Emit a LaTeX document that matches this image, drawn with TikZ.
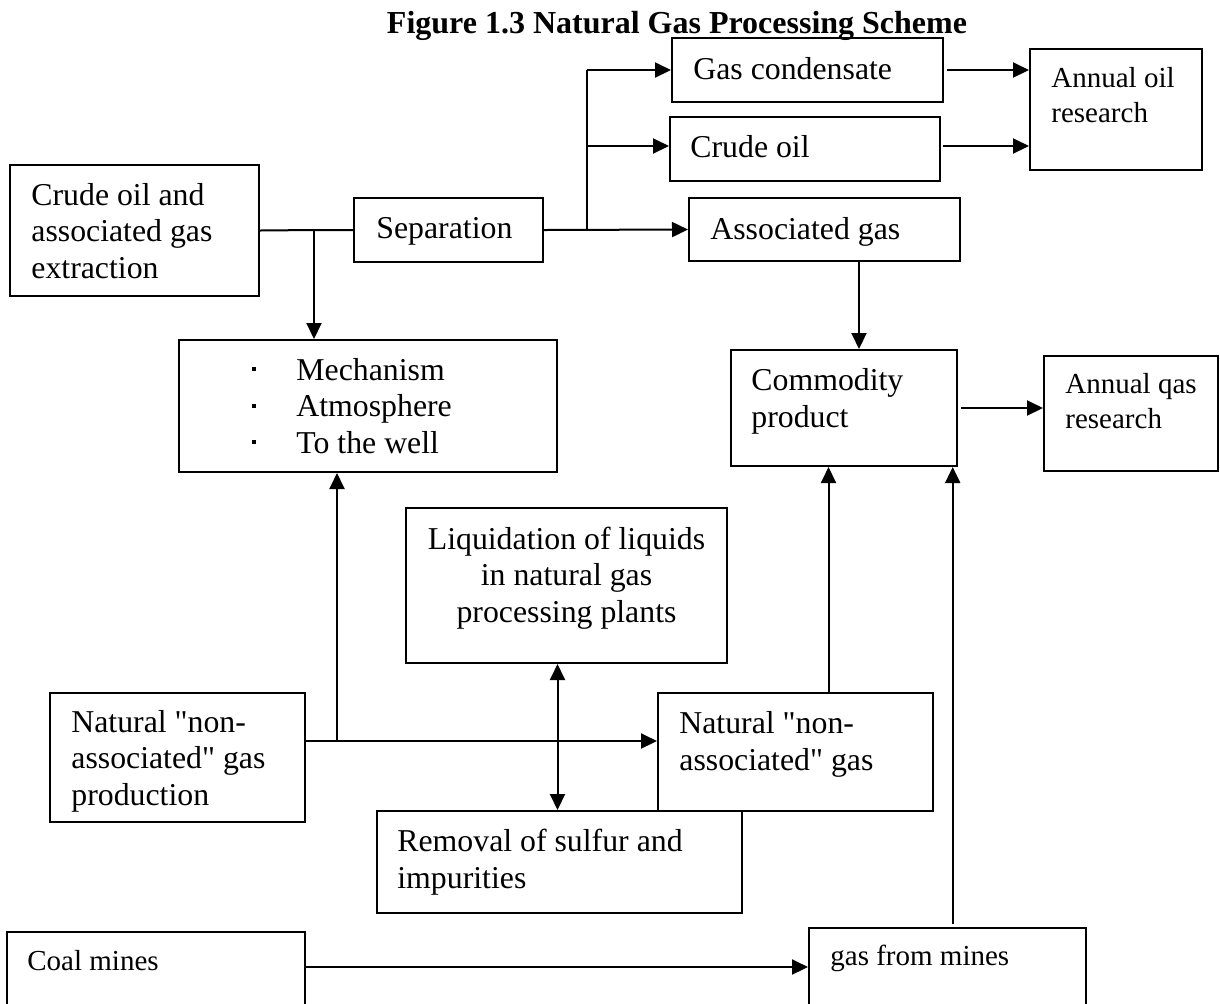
\documentclass[tikz,border=0pt]{standalone}
\usepackage{fontspec}
\setmainfont{Liberation Serif}[Ligatures=TeXOff]
\usetikzlibrary{arrows.meta,fit}
\newcommand{\sqbullet}{\makebox[22pt][l]{\rule[4.5pt]{2pt}{2pt}}}
\begin{document}
\begin{tikzpicture}[x=0.5pt,y=-0.5pt,
  box/.style={draw, line width=1pt, rectangle, inner sep=0pt},
  txt/.style={anchor=base west, inner sep=0pt, align=left, font=\fontsize{15.9}{18.25}\selectfont},
  stxt/.style={anchor=base west, inner sep=0pt, align=left, font=\fontsize{14.5}{17.5}\selectfont},
  conn/.style={line width=1pt},
  arr/.style={line width=1pt, -{Triangle[length=8pt,width=7.5pt]}},
  darr/.style={line width=1pt, {Triangle[length=8pt,width=7.5pt]}-{Triangle[length=8pt,width=7.5pt]}}]
\useasboundingbox (0,0) rectangle (1220,1003);
\clip (0,0) rectangle (1220,1003);

% title
\node[anchor=base, inner sep=0pt, font=\fontsize{16}{19}\selectfont\bfseries] (title) at (677,33) {Figure 1.3 Natural Gas Processing Scheme};

% boxes
\node[box, fit={(10,165) (259,296)}] (cr) {};
\node[box, fit={(354,198) (543,262)}] (sep) {};
\node[box, fit={(672,38) (943,102)}] (cond) {};
\node[box, fit={(670,117) (940,181)}] (crude) {};
\node[box, fit={(689,198) (960,261)}] (assoc) {};
\node[box, fit={(1030,49) (1202,170)}] (aor) {};
\node[box, fit={(179,340) (557,472)}] (mech) {};
\node[box, fit={(731,350) (957,466)}] (comm) {};
\node[box, fit={(1044,356) (1218,471)}] (aqr) {};
\node[box, fit={(406,508) (727,663)}] (liq) {};
\node[box, fit={(50,693) (305,822)}] (nprod) {};
\node[box, fit={(658,693) (933,811)}] (nag) {};
\node[box, fit={(377,811) (742,913)}] (rem) {};
\node[box, fit={(7,932) (305,1012)}] (coal) {};
\node[box, fit={(809,928) (1086,1012)}] (gfm) {};

% texts (base anchor = baseline of the last line)
\node[txt] (crT) at (31,278) {Crude oil and\\associated gas\\extraction};
\node[txt] (sepT) at (376,238) {Separation};
\node[txt] (condT) at (693,79) {Gas condensate};
\node[txt] (crudeT) at (690,157) {Crude oil};
\node[txt] (assocT) at (710,239) {Associated gas};
\node[stxt] (aorT) at (1051,122) {Annual oil\\research};
\node[txt] (mechT) at (252,453) {\sqbullet Mechanism\\ \sqbullet Atmosphere\\ \sqbullet To the well};
\node[txt, anchor=base, align=center] (liqT) at (566.5,622) {Liquidation of liquids\\in natural gas\\processing plants};
\node[txt] (commT) at (751,427) {Commodity\\product};
\node[stxt] (aqrT) at (1065,428) {Annual qas\\research};
\node[txt] (nprodT) at (71,805) {Natural "non-\\associated" gas\\production};
\node[txt] (nagT) at (679,770) {Natural "non-\\associated" gas};
\node[txt] (remT) at (397,888) {Removal of sulfur and\\impurities};
\node[stxt] (coalT) at (27,970) {Coal mines};
\node[stxt] (gfmT) at (830,965) {gas from mines};

% helper coordinates
\coordinate (j1) at (314,230);
\coordinate (j2) at (587,230);
\coordinate (j2top) at (587,70);
\coordinate (ycr) at (0,146);
\coordinate (xa) at (859,0);
\coordinate (xj3) at (337,0);
\coordinate (yh) at (0,741);
\coordinate (xd) at (557.5,0);
\coordinate (xn) at (828.5,0);
\coordinate (xg) at (952.7,0);
\coordinate (yc) at (0,967);

% connectors
\draw[conn] (cr.east) -- (j1) -- (sep.west);
\draw[arr] (j1) -- (j1 |- mech.north);
\draw[arr] (sep.east) -- (assoc.west);
\draw[conn] (j2) -- (j2top);
\draw[arr] (j2top) -- (cond.west);
\draw[arr] (j2 |- ycr) -- (crude.west |- ycr);
\draw[arr] ([xshift=1.5pt]cond.east) -- (cond.east -| aor.west);
\draw[arr] ([xshift=1pt]crude.east |- ycr) -- (aor.west |- ycr);
\draw[arr] (assoc.south -| xa) -- (comm.north -| xa);
\draw[arr] ([xshift=1.5pt]comm.east) -- (comm.east -| aqr.west);
\draw[arr] (nprod.east |- yh) -- (nag.west |- yh);
\draw[arr] (xj3 |- yh) -- (xj3 |- mech.south);
\draw[darr] (liq.south -| xd) -- (rem.north -| xd);
\draw[arr] (nag.north -| xn) -- (comm.south -| xn);
\draw[arr] ([yshift=1.5pt]gfm.north -| xg) -- (comm.south -| xg);
\draw[arr] (coal.east |- yc) -- (gfm.west |- yc);
\end{tikzpicture}
\end{document}
